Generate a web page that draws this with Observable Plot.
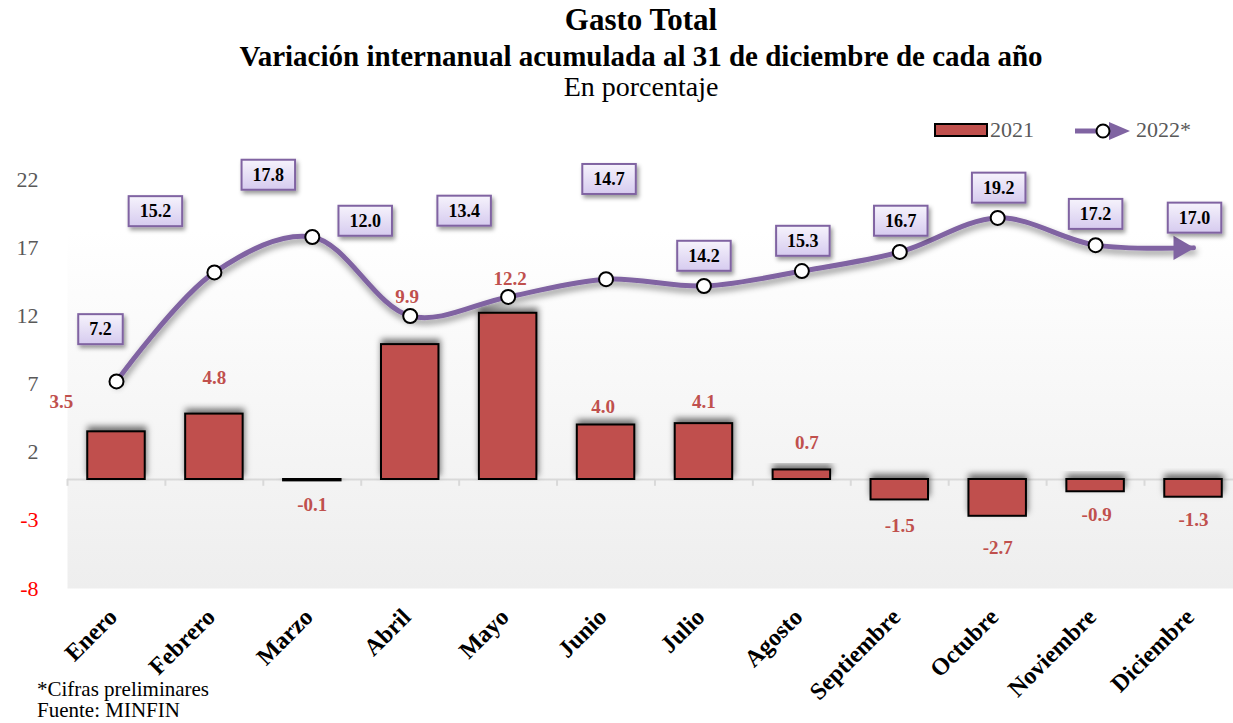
<!DOCTYPE html>
<html>
<head>
<meta charset="utf-8">
<script src="https://cdn.jsdelivr.net/npm/d3@7"></script>
<script src="https://cdn.jsdelivr.net/npm/@observablehq/plot@0.6"></script>
<style>
  html, body { margin: 0; padding: 0; background: #fff; overflow: hidden; }
  body { width: 1233px; height: 723px; position: relative; font-family: 'Liberation Serif', 'Times New Roman', serif; }
  .t { position: absolute; left: 49px; width: 1184px; text-align: center; white-space: nowrap; color: #000; }
  .abs { position: absolute; white-space: nowrap; }
  #chart { position: absolute; left: 0; top: 140px; }
</style>
</head>
<body>
<div class="t" style="top:4px; font-size:31px; line-height:31px; font-weight:bold;">Gasto Total</div>
<div class="t" style="top:42px; font-size:29px; line-height:29px; font-weight:bold;">Variación internanual acumulada al 31 de diciembre de cada año</div>
<div class="t" style="top:73px; font-size:28px; line-height:28px;">En porcentaje</div>

<div class="abs" style="left:934px; top:123px; width:50px; height:10px; background:#c0504d; border:2px solid #000;"></div>
<div class="abs" style="left:990px; top:119px; font-size:22px; line-height:22px; color:#595959;">2021</div>
<svg class="abs" style="left:1070px; top:116px;" width="66" height="30">
  <line x1="5" y1="15" x2="36" y2="15" stroke="#8064a2" stroke-width="5"/>
  <polygon points="39,6 60,15 39,24" fill="#8064a2"/>
  <circle cx="33" cy="15" r="6.5" fill="#fff" stroke="#000" stroke-width="2"/>
</svg>
<div class="abs" style="left:1136px; top:119px; font-size:22px; line-height:22px; color:#595959;">2022*</div>

<div id="chart"></div>

<div class="abs" style="left:37px; top:679px; font-size:21px; line-height:21px; color:#000;">*Cifras preliminares</div>
<div class="abs" style="left:37px; top:700px; font-size:21px; line-height:21px; color:#000;">Fuente: MINFIN</div>

<script>
// ---- Data ----
const months = ["Enero","Febrero","Marzo","Abril","Mayo","Junio","Julio","Agosto","Septiembre","Octubre","Noviembre","Diciembre"];
const v2021 = [3.5, 4.8, -0.1, 9.9, 12.2, 4.0, 4.1, 0.7, -1.5, -2.7, -0.9, -1.3];
const v2022 = [7.2, 15.2, 17.8, 12.0, 13.4, 14.7, 14.2, 15.3, 16.7, 19.2, 17.2, 17.0];
const yTicks = [-8, -3, 2, 7, 12, 17, 22];

// ---- Annotation placement (pixel nudges, as in the original layout) ----
const barLabelNudge = [[-55,-30],[0,-36],[0,24],[-3,-48],[2,-34],[-3,-18],[0,-22],[5,-27],[0,26],[0,32],[1,23],[0,23]];
const boxNudge = [[-16,-52],[-59,-61],[-44,-62],[-45,-95],[-44,-86],[3,-100],[0,-30],[1,-30],[1,-31],[1,-30],[0,-31],[1,-30]];

const rows = months.map((m, i) => ({month: m, a: v2021[i], b: v2022[i]}));
const serif = "'Liberation Serif', 'Times New Roman', serif";

const barLabels = rows.map((r, i) => Plot.text([r], {
  x: "month", y: "a", text: d => d.a.toFixed(1),
  dx: barLabelNudge[i][0], dy: barLabelNudge[i][1],
  fill: "#c0504d", fontWeight: "bold", fontSize: 19
}));
const boxLabels = rows.map((r, i) => Plot.text([r], {
  x: "month", y: "b", text: d => d.b.toFixed(1),
  dx: boxNudge[i][0], dy: boxNudge[i][1],
  fill: "#000", fontWeight: "bold", fontSize: 18, ariaDescription: "box"
}));

const chart = Plot.plot({
  width: 1233, height: 583,
  marginLeft: 67, marginRight: 0, marginTop: 12, marginBottom: 135,
  style: {background: "transparent", fontFamily: serif, overflow: "visible"},
  x: {domain: months, range: [87.25, 1221.75], paddingInner: 0.413, paddingOuter: 0, round: false, axis: null},
  y: {domain: [-8, 24], axis: null},
  marks: [
    Plot.frame({fill: "url(#bgGrad)", stroke: "none"}),
    Plot.ruleY([0], {stroke: "#d9d9d9", strokeWidth: 2}),
    Plot.ruleX(months, {x: d => d, y1: 0, y2: -0.5, dx: -49, stroke: "#d9d9d9", strokeWidth: 2}),
    Plot.barY(rows, {x: "month", y: "a", fill: "#c0504d", stroke: "#000", strokeWidth: 2, ariaDescription: "bars"}),
    Plot.line(rows, {x: "month", y: "b", curve: "catmull-rom", stroke: "#8064a2", strokeWidth: 5, ariaDescription: "line2022"}),
    Plot.dot(rows.slice(-1), {x: "month", y: "b", symbol: "triangle", rotate: 90, r: 9, fill: "#8064a2", stroke: "none", dx: -13}),
    Plot.dot(rows.slice(0, -1), {x: "month", y: "b", r: 7, fill: "#fff", stroke: "#000", strokeWidth: 2}),
    ...barLabels,
    ...boxLabels,
    Plot.text(yTicks.filter(d => d >= 0), {y: d => d, text: d => String(d), frameAnchor: "left", dx: -29, textAnchor: "end", fill: "#595959", fontSize: 22}),
    Plot.text(yTicks.filter(d => d < 0), {y: d => d, text: d => String(d), frameAnchor: "left", dx: -29, textAnchor: "end", fill: "#ff0000", fontSize: 22}),
    Plot.text(months, {x: d => d, text: d => d, frameAnchor: "bottom", dx: 2, dy: 30, rotate: -45, textAnchor: "end", fontWeight: "bold", fontSize: 24, fill: "#000"})
  ]
});

document.getElementById("chart").appendChild(chart);

// ---- Decorations: gradients and shadows ----
const svg = d3.select(chart);
const defs = svg.insert("defs", ":first-child");
const bg = defs.append("linearGradient").attr("id", "bgGrad").attr("x1", 0).attr("y1", 0).attr("x2", 0).attr("y2", 1);
bg.append("stop").attr("offset", "0%").attr("stop-color", "#ffffff");
bg.append("stop").attr("offset", "18%").attr("stop-color", "#ffffff");
bg.append("stop").attr("offset", "100%").attr("stop-color", "#eeeeee");
const bx = defs.append("linearGradient").attr("id", "boxGrad").attr("x1", 0).attr("y1", 0).attr("x2", 0).attr("y2", 1);
bx.append("stop").attr("offset", "0%").attr("stop-color", "#f6f3fc");
bx.append("stop").attr("offset", "100%").attr("stop-color", "#d6cbef");
function shadow(id, dx, dy, sd, op) {
  const f = defs.append("filter").attr("id", id).attr("x", "-30%").attr("y", "-60%").attr("width", "160%").attr("height", "220%");
  f.append("feDropShadow").attr("dx", dx).attr("dy", dy).attr("stdDeviation", sd).attr("flood-color", "#000").attr("flood-opacity", op);
}
shadow("barShadow", 1, -4, 3, 0.55);
shadow("lineShadow", 1, 4, 3, 0.45);
shadow("boxShadow", 2, 3, 2, 0.4);

svg.selectAll('[aria-description="bars"] rect').attr("filter", "url(#barShadow)");
svg.selectAll('[aria-description="line2022"]').attr("filter", "url(#lineShadow)");

svg.selectAll('[aria-description="box"] text').each(function() {
  const bb = this.getBBox();
  const w = bb.width + 22, h = 30;
  const cx = bb.x + bb.width / 2, cy = bb.y + bb.height / 2;
  const rect = document.createElementNS("http://www.w3.org/2000/svg", "rect");
  rect.setAttribute("x", cx - w / 2);
  rect.setAttribute("y", cy - h / 2);
  rect.setAttribute("width", w);
  rect.setAttribute("height", h);
  rect.setAttribute("fill", "url(#boxGrad)");
  rect.setAttribute("stroke", "#8064a2");
  rect.setAttribute("stroke-width", 2);
  rect.setAttribute("filter", "url(#boxShadow)");
  const tr = this.getAttribute("transform");
  if (tr) rect.setAttribute("transform", tr);
  this.parentNode.insertBefore(rect, this);
});
</script>
</body>
</html>
